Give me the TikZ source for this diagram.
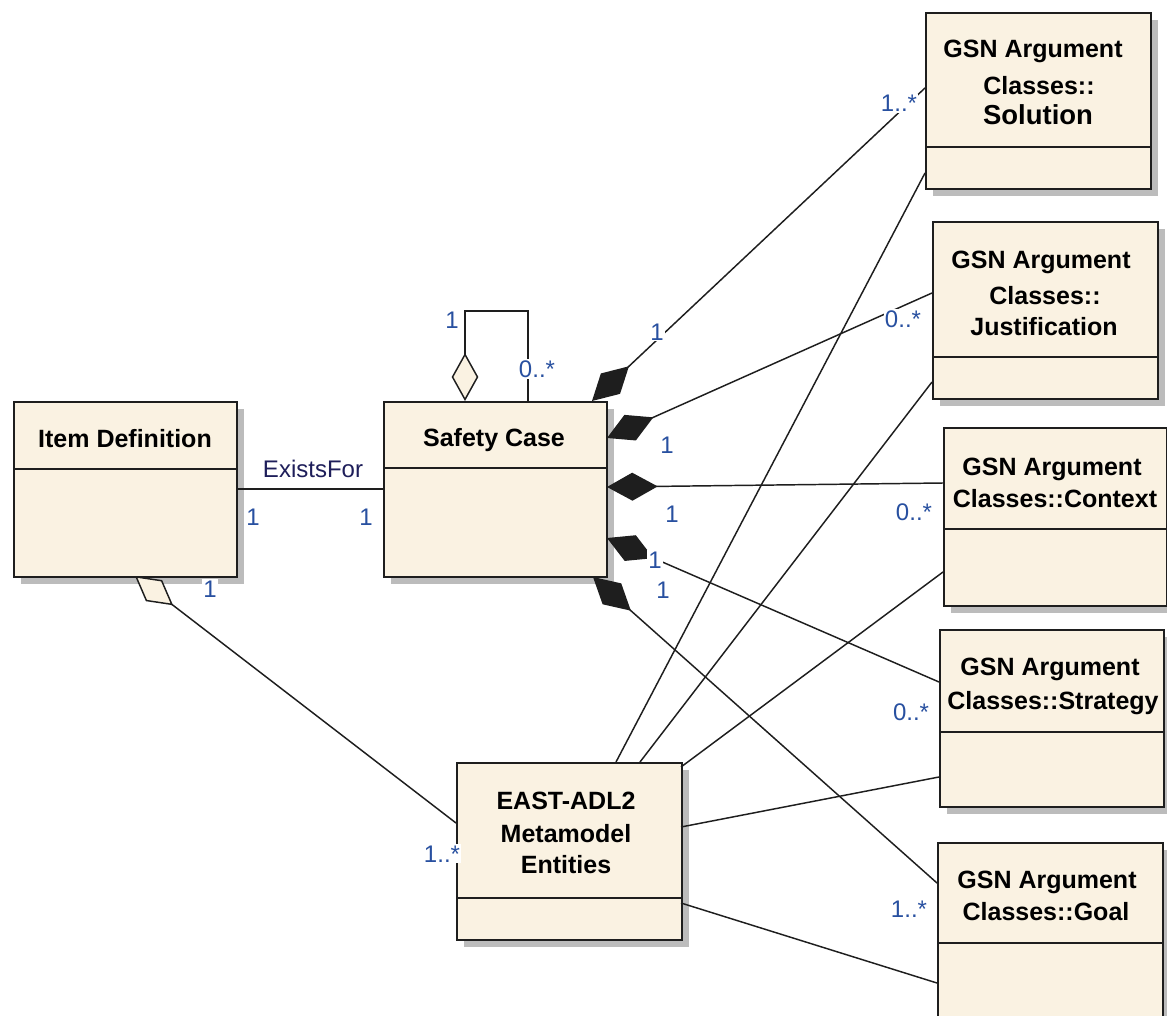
\documentclass[tikz,border=0pt]{standalone}
\usepackage{fontspec}
\setmainfont{Liberation Sans}
\usetikzlibrary{arrows.meta,shadows}

\definecolor{classfill}{RGB}{250,242,226}
\definecolor{classline}{RGB}{30,30,30}
\definecolor{shadowgray}{RGB}{188,188,188}
\definecolor{multcolor}{RGB}{40,80,160}
\definecolor{namecolor}{RGB}{30,30,90}

% class box: name, left x, top y, width, height, divider offset (all in px)
\newcommand\umlbox[6]{%
  \node[classbox, minimum width={#4*0.75pt}, minimum height={#5*0.75pt}] (#1) at (#2,#3) {};
  \draw[divider] ([yshift={-#6*0.75pt}]#1.north west) -- ([yshift={-#6*0.75pt}]#1.north east);
}

\begin{document}
\begin{tikzpicture}[x=0.75pt, y=-0.75pt,
  classbox/.style={draw=classline, line width=1.4pt, fill=classfill, inner sep=0pt,
    anchor=north west,
    drop shadow={fill=shadowgray, opacity=1, shadow xshift=5.25pt, shadow yshift=-5.25pt}},
  divider/.style={draw=classline, line width=1.2pt},
  title/.style={font=\fontsize{18.75}{24}\selectfont\bfseries, text=black, anchor=base, inner sep=0pt},
  bigtitle/.style={title, font=\fontsize{20.6}{26}\selectfont\bfseries},
  mult/.style={font=\fontsize{18}{22}\selectfont, text=multcolor, fill=white, inner sep=1pt, anchor=base},
  assoc/.style={mult, text=namecolor},
  conn/.style={draw=classline, line width=1.1pt},
  comp/.style={arrows={Diamond[length=38pt, width=21pt]-}},
  aggr/.style={arrows={Diamond[open, fill=classfill, length=36pt, width=20pt]-}}
]
\fill[white] (0,0) rectangle (1167,1016);
\useasboundingbox (0,0) rectangle (1167,1016);

% classes
\umlbox{id}{13}{401}{223}{175}{68}
\umlbox{sc}{383}{401}{223}{175}{67}
\umlbox{sol}{925}{12}{225}{176}{135}
\umlbox{jus}{932}{221}{225}{177}{136}
\umlbox{ctx}{943}{427}{223}{178}{102}
\umlbox{str}{939}{629}{224}{177}{103}
\umlbox{goal}{937}{842}{225}{190}{101}
\umlbox{east}{456}{762}{225}{177}{136}

% class names
\node[title] (id-t) at (125,447) {Item Definition};
\node[title] (sc-t) at (494,446) {Safety Case};
\node[title] (sol-t1) at (1033,58) {GSN Argument};
\node[title] (sol-t2) at (1039,95) {Classes::};
\node[bigtitle] (sol-t3) at (1038,125) {Solution};
\node[title] (jus-t1) at (1041,269) {GSN Argument};
\node[title] (jus-t2) at (1045,305) {Classes::};
\node[title] (jus-t3) at (1044,335) {Justification};
\node[title] (ctx-t1) at (1052,475) {GSN Argument};
\node[title] (ctx-t2) at (1055,507) {Classes::Context};
\node[title] (str-t1) at (1050,675) {GSN Argument};
\node[title] (str-t2) at (1053,709) {Classes::Strategy};
\node[title] (goal-t1) at (1047,888) {GSN Argument};
\node[title] (goal-t2) at (1046,920) {Classes::Goal};
\node[title] (east-t1) at (566,809) {EAST-ADL2};
\node[title] (east-t2) at (566,842) {Metamodel};
\node[title] (east-t3) at (566,873) {Entities};

% associations
\draw[conn] ([shift={(223,88)}]id.north west) -- ([shift={(0,88)}]sc.north west);
\draw[conn, aggr] ([shift={(82,0)}]sc.north west) -- ++(0,-90) -| ([shift={(145,0)}]sc.north west);
\draw[conn, aggr] ([shift={(122,175)}]id.north west) -- ([shift={(0,61)}]east.north west);

% compositions from the safety case
\draw[conn, comp] ([shift={(209,0)}]sc.north west) -- ([shift={(0,76)}]sol.north west);
\draw[conn, comp] ([shift={(224,37)}]sc.north west) -- ([shift={(0,72)}]jus.north west);
\draw[conn, comp] ([shift={(224,86)}]sc.north west) -- ([shift={(0,56)}]ctx.north west);
\draw[conn, comp] ([shift={(224,137)}]sc.north west) -- ([shift={(0,53)}]str.north west);
\draw[conn, comp] ([shift={(210,176)}]sc.north west) -- ([shift={(0,41)}]goal.north west);

% links from the EAST-ADL2 entities
\draw[conn] ([shift={(160,0)}]east.north west) -- ([shift={(0,161)}]sol.north west);
\draw[conn] ([shift={(184,0)}]east.north west) -- ([shift={(0,161)}]jus.north west);
\draw[conn] ([shift={(225,5)}]east.north west) -- ([shift={(0,145)}]ctx.north west);
\draw[conn] ([shift={(225,65)}]east.north west) -- ([shift={(0,148)}]str.north west);
\draw[conn] ([shift={(225,141)}]east.north west) -- ([shift={(0,141)}]goal.north west);

% multiplicities and names
\node[mult] (m-self1) at (452,328) {1};
\node[mult] (m-self2) at (537,377) {0..*};
\node[assoc] (m-exists) at (313,477) {ExistsFor};
\node[mult] (m-id1) at (253,525) {1};
\node[mult] (m-sc1) at (366,525) {1};
\node[mult] (m-id2) at (210,597) {1};
\node[mult] (m-east) at (442,862) {1..*};
\node[mult] (m-sol1) at (657,340) {1};
\node[mult] (m-sol2) at (899,112) {1..*};
\node[mult] (m-jus1) at (667,453) {1};
\node[mult] (m-jus2) at (903,327) {0..*};
\node[mult] (m-ctx1) at (672,522) {1};
\node[mult] (m-ctx2) at (914,520) {0..*};
\node[mult] (m-str1) at (655,568) {1};
\node[mult] (m-str2) at (911,720) {0..*};
\node[mult] (m-goal1) at (663,598) {1};
\node[mult] (m-goal2) at (909,917) {1..*};
\end{tikzpicture}
\end{document}
